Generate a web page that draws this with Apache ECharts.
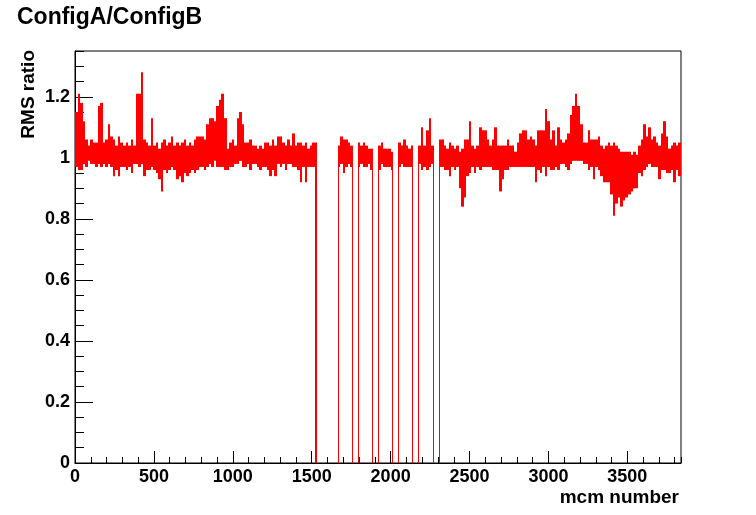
<!DOCTYPE html>
<html><head><meta charset="utf-8">
<script src="https://cdn.jsdelivr.net/npm/echarts@6/dist/echarts.min.js"></script>
<style>html,body{margin:0;padding:0;background:#fff}#c{width:756px;height:515px}</style>
</head><body><div id="c"></div>
<script>
const chartTitle = 'ConfigA/ConfigB';
const xTitle = 'mcm number';
const yTitle = 'RMS ratio';
const mcmMax = 3840;
const binWidth = 16;
const yMax = 1.35;
const xTickValues = [0, 500, 1000, 1500, 2000, 2500, 3000, 3500];
const xTickLabels = ['0', '500', '1000', '1500', '2000', '2500', '3000', '3500'];
const yTickValues = [0, 0.2, 0.4, 0.6, 0.8, 1, 1.2];
const yTickLabels = ['0', '0.2', '0.4', '0.6', '0.8', '1', '1.2'];

// upper / lower extent of the RMS ratio inside each 16-mcm bin (0 = empty)
const rmsHigh = [
  1.15, 1.21, 1.18, 1.12, 1.06, 1.04, 1.06, 1.05, 1.05, 1.17,
  1.18, 1.05, 1.06, 1.11, 1.07, 1.06, 1.04, 1.07, 1.05, 1.04,
  1.05, 1.04, 1.06, 1.04, 1.21, 1.21, 1.28, 1.06, 1.05, 1.04,
  1.13, 1.04, 1.05, 1.03, 1.05, 1.06, 1.04, 1.05, 1.07, 1.04,
  1.05, 1.04, 1.05, 1.06, 1.04, 1.05, 1.04, 1.06, 1.07, 1.07,
  1.07, 1.06, 1.11, 1.13, 1.13, 1.12, 1.17, 1.19, 1.21, 1.13,
  1.03, 1.05, 1.06, 1.04, 1.13, 1.15, 1.11, 1.05, 1.05, 1.06,
  1.04, 1.04, 1.03, 1.04, 1.03, 1.05, 1.05, 1.04, 1.06, 1.04,
  1.07, 1.07, 1.05, 1.04, 1.06, 1.04, 1.08, 1.04, 1.05, 1.05,
  1.04, 1.05, 1.03, 1.04, 1.05, 1.05, 0, 0, 0, 0,
  0, 0, 0, 0, 1.04, 1.07, 1.06, 1.06, 1.05, 1.04,
  0, 0, 1.05, 1.04, 1.05, 1.04, 1.03, 1.03, 0, 0,
  1.04, 1.05, 1.03, 1.03, 1.03, 1.02, 0, 0, 1.05, 1.04,
  1.06, 1.04, 1.03, 1.04, 0, 0, 1.04, 1.10, 1.04, 1.09,
  1.13, 1.04, 0, 0, 1.06, 1.06, 1.04, 1.03, 1.05, 1.04,
  1.03, 1.04, 1.02, 1.03, 1.06, 1.06, 1.12, 1.04, 1.03, 1.04,
  1.10, 1.09, 1.09, 1.06, 1.04, 1.06, 1.10, 1.04, 1.04, 1.04,
  1.04, 1.06, 1.04, 1.04, 1.02, 1.05, 1.08, 1.09, 1.09, 1.06,
  1.07, 1.06, 1.04, 1.09, 1.09, 1.09, 1.16, 1.12, 1.06, 1.09,
  1.04, 1.10, 1.06, 1.05, 1.06, 1.08, 1.14, 1.17, 1.21, 1.17,
  1.11, 1.05, 1.05, 1.09, 1.06, 1.06, 1.06, 1.07, 1.04, 1.03,
  1.04, 1.05, 1.04, 1.05, 1.04, 1.03, 1.02, 1.02, 1.02, 1.02,
  1.01, 1.02, 1.01, 1.04, 1.06, 1.11, 1.07, 1.10, 1.06, 1.07,
  1.05, 1.04, 1.08, 1.12, 1.07, 1.03, 1.04, 1.05, 1.04, 1.05
];
const rmsLow = [
  0.97, 0.96, 0.96, 0.98, 0.97, 0.99, 0.98, 0.98, 0.97, 0.98,
  0.97, 0.98, 0.97, 0.98, 0.97, 0.94, 0.96, 0.94, 0.97, 0.97,
  0.96, 0.97, 0.95, 0.98, 0.98, 0.97, 0.98, 0.94, 0.96, 0.96,
  0.97, 0.96, 0.95, 0.93, 0.89, 0.96, 0.95, 0.96, 0.97, 0.96,
  0.93, 0.94, 0.92, 0.95, 0.94, 0.95, 0.96, 0.95, 0.96, 0.97,
  0.97, 0.96, 0.97, 0.98, 0.97, 0.99, 0.97, 0.97, 0.97, 0.96,
  0.96, 0.97, 0.97, 0.98, 0.98, 0.99, 0.97, 0.97, 0.98, 0.96,
  0.98, 0.98, 0.97, 0.96, 0.97, 0.97, 0.96, 0.94, 0.96, 0.94,
  0.98, 0.97, 0.98, 0.96, 0.98, 0.98, 0.97, 0.97, 0.96, 0.92,
  0.97, 0.92, 0.97, 0.97, 0.97, 0, 0, 0, 0, 0,
  0, 0, 0, 0, 0.97, 0.98, 0.95, 0.97, 0.98, 0.97,
  0, 0, 0.97, 0.98, 0.97, 0.97, 0.98, 0.96, 0, 0,
  0.96, 0.98, 0.97, 0.97, 0.97, 0.96, 0, 0, 0.97, 0.98,
  0.97, 0.97, 0.97, 0.97, 0, 0, 0.98, 0.96, 0.97, 0.96,
  0.97, 0.98, 0, 0, 0.97, 0.97, 0.96, 0.96, 0.94, 0.97,
  0.96, 0.97, 0.90, 0.84, 0.87, 0.94, 0.95, 0.97, 0.95, 0.97,
  0.96, 0.97, 0.97, 0.97, 0.97, 0.96, 0.96, 0.96, 0.89, 0.93,
  0.96, 0.96, 0.97, 0.97, 0.97, 0.97, 0.97, 0.97, 0.97, 0.97,
  0.97, 0.97, 0.92, 0.96, 0.95, 0.97, 0.94, 0.97, 0.96, 0.96,
  0.97, 0.96, 0.98, 0.98, 0.97, 0.96, 0.98, 0.99, 0.99, 0.99,
  0.99, 0.98, 0.98, 0.96, 0.97, 0.93, 0.97, 0.96, 0.94, 0.92,
  0.92, 0.92, 0.88, 0.81, 0.85, 0.87, 0.84, 0.86, 0.87, 0.88,
  0.89, 0.90, 0.90, 0.95, 0.94, 0.96, 0.97, 0.98, 0.97, 0.97,
  0.97, 0.93, 0.96, 0.96, 0.95, 0.95, 0.96, 0.92, 0.96, 0.94
];

const FONT = '"Liberation Sans", Arial, Helvetica, sans-serif';
const RED = '#ff0000';
const nBins = rmsHigh.length;
const binData = rmsHigh.map((h, i) => [
  i * binWidth, (i + 1) * binWidth, rmsLow[i], h,
  (i > 0 && rmsHigh[i - 1] === 0) ? 1 : 0,
  (i < nBins - 1 && rmsHigh[i + 1] === 0) ? 1 : 0
]);

function lookup(values, labels, v) {
  const k = values.findIndex(t => Math.abs(t - v) < 1e-6);
  return k >= 0 ? labels[k] : '';
}

const chart = echarts.init(document.getElementById('c'), null, { renderer: 'canvas' });
const labelStyle = { color: '#000', fontFamily: FONT, fontWeight: 'bold', fontSize: 18 };

chart.setOption({
  animation: false,
  backgroundColor: '#fff',
  grid: { left: 75, right: 75, top: 51, bottom: 52, show: true, borderColor: '#000', borderWidth: 1, backgroundColor: 'transparent' },
  xAxis: [
    { type: 'value', min: 0, max: mcmMax, interval: 500, position: 'bottom',
      axisLine: { show: true, onZero: false, lineStyle: { color: '#000', width: 1 } },
      axisTick: { show: true, inside: true, length: 12, lineStyle: { color: '#000', width: 1 } },
      axisLabel: Object.assign({ show: true, margin: 5, showMaxLabel: false,
        formatter: v => lookup(xTickValues, xTickLabels, v) }, labelStyle),
      splitLine: { show: false } },
    { type: 'value', min: 0, max: mcmMax, interval: 100, position: 'bottom',
      axisLine: { show: false }, axisLabel: { show: false }, splitLine: { show: false },
      axisTick: { show: true, inside: true, length: 6, lineStyle: { color: '#000', width: 1 } } }
  ],
  yAxis: [
    { type: 'value', min: 0, max: yMax, interval: 0.2, position: 'left',
      axisLine: { show: true, onZero: false, lineStyle: { color: '#000', width: 1 } },
      axisTick: { show: true, inside: true, length: 18, lineStyle: { color: '#000', width: 1 } },
      axisLabel: Object.assign({ show: true, margin: 5, showMaxLabel: false,
        formatter: v => lookup(yTickValues, yTickLabels, v) }, labelStyle),
      splitLine: { show: false } },
    { type: 'value', min: 0, max: yMax, interval: 0.05, position: 'left',
      axisLine: { show: false }, axisLabel: { show: false }, splitLine: { show: false },
      axisTick: { show: true, inside: true, length: 9, lineStyle: { color: '#000', width: 1 } } }
  ],
  graphic: [
    { type: 'text', x: 17, y: 18, silent: true,
      style: { text: chartTitle, fill: '#000', font: 'bold 23px ' + FONT, textAlign: 'left', textVerticalAlign: 'middle', align: 'left', verticalAlign: 'middle' } },
    { type: 'text', x: 679, y: 497.5, silent: true,
      style: { text: xTitle, fill: '#000', font: 'bold 19px ' + FONT, textAlign: 'right', textVerticalAlign: 'middle', align: 'right', verticalAlign: 'middle' } },
    { type: 'text', x: 28.5, y: 50, rotation: Math.PI / 2, silent: true,
      style: { text: yTitle, fill: '#000', font: 'bold 19px ' + FONT, textAlign: 'right', textVerticalAlign: 'middle', align: 'right', verticalAlign: 'middle' } }
  ],
  series: [{
    type: 'custom',
    xAxisIndex: 0, yAxisIndex: 0,
    clip: true,
    data: binData,
    encode: { x: [0, 1], y: [2, 3] },
    renderItem: function (params, api) {
      const x0 = api.value(0), x1 = api.value(1), lo = api.value(2), hi = api.value(3);
      if (!(hi > 0)) return;
      const a = api.coord([x0, hi]);
      const b = api.coord([x1, lo]);
      const left = Math.round(a[0]), right = Math.round(b[0]);
      const children = [{
        type: 'rect',
        shape: { x: left, y: a[1], width: Math.max(1, right - left), height: Math.max(1, b[1] - a[1]) },
        style: { fill: RED }
      }];
      if (api.value(4)) {
        const p = api.coord([x0, 0]), q = api.coord([x0, lo]);
        const xx = Math.round(p[0]) + 0.5;
        children.push({ type: 'line', shape: { x1: xx, y1: p[1], x2: xx, y2: q[1] }, style: { stroke: RED, lineWidth: 1 } });
      }
      if (api.value(5)) {
        const p = api.coord([x1, 0]), q = api.coord([x1, lo]);
        const xx = Math.round(p[0]) - 0.5;
        children.push({ type: 'line', shape: { x1: xx, y1: p[1], x2: xx, y2: q[1] }, style: { stroke: RED, lineWidth: 1 } });
      }
      return { type: 'group', children: children };
    }
  }]
});
</script>
</body></html>
